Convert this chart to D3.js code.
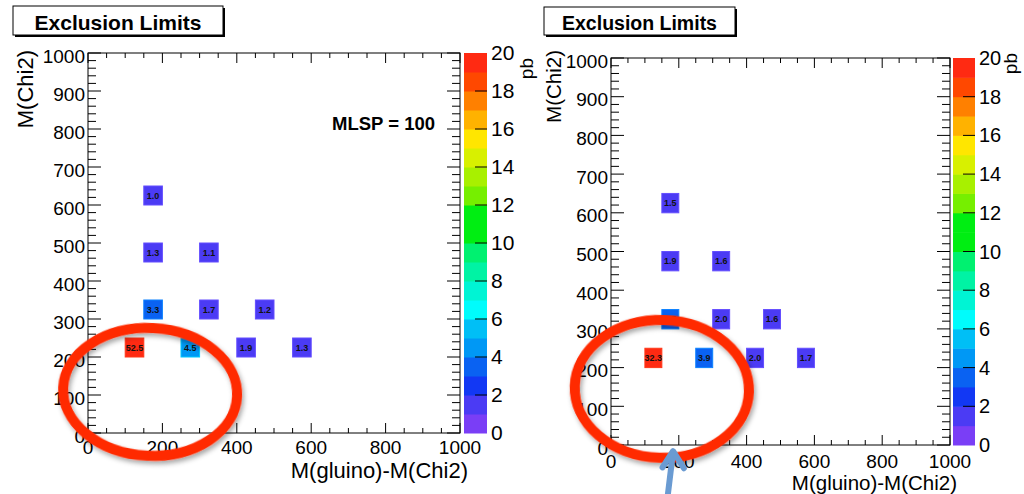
<!DOCTYPE html>
<html>
<head>
<meta charset="utf-8">
<script src="https://cdn.jsdelivr.net/npm/d3@7"></script>
<style>
  body { margin: 0; background: #fff; }
  svg { display: block; font-family: "Liberation Sans", Arial, sans-serif; }
</style>
</head>
<body>
<div id="chart"></div>
<script>
// bin centres (same grid in both panels)
const cellX = [125, 275, 425, 575, 175, 325, 475, 175, 325, 175];
const cellY = [225, 225, 225, 225, 325, 325, 325, 475, 475, 625];
// cross sections in pb
const xsecLeft  = [52.5, 4.5, 1.9, 1.3, 3.3, 1.7, 1.2, 1.3, 1.1, 1.0];
const xsecRight = [32.3, 3.9, 1.96, 1.7, 3.5, 1.96, 1.6, 1.9, 1.6, 1.5];

const xTicks = [0, 200, 400, 600, 800, 1000];
const yTicks = [0, 100, 200, 300, 400, 500, 600, 700, 800, 900, 1000];
const zTicks = [0, 2, 4, 6, 8, 10, 12, 14, 16, 18, 20];

// ROOT-ish rainbow, 20 bands from 0 to 20 pb
const palette = ["#7a3ef6", "#4b3bf4", "#1238f4", "#0a62f2", "#0098f5", "#00bff6", "#00fcfc",
  "#00f4d4", "#00f3a4", "#00f170", "#00ee12", "#00ee12", "#76ef00", "#a8f000", "#d8f000",
  "#ffe600", "#ffb200", "#ff8000", "#ff4800", "#ff2a12"];

const width = 1024, height = 494;
const svg = d3.select("#chart").append("svg")
  .attr("width", width).attr("height", height);

const defs = svg.append("defs");
defs.append("filter").attr("id", "shadow")
  .attr("x", "-20%").attr("y", "-20%").attr("width", "140%").attr("height", "140%")
  .append("feDropShadow")
  .attr("dx", 2).attr("dy", 3).attr("stdDeviation", 2.5)
  .attr("flood-color", "#000").attr("flood-opacity", 0.35);

const colour = d3.scaleQuantize().domain([0, 20]).range(palette);

function drawPanel(p, values) {
  const g = svg.append("g");
  const x = d3.scaleLinear().domain([0, 1000]).range([p.x0, p.x1]);
  const y = d3.scaleLinear().domain([0, 1000]).range([p.y0, p.y1]);
  const z = d3.scaleLinear().domain([0, 20]).range([p.y0, p.y1]);

  // cells
  const cells = cellX.map((cx, i) => ({ x: cx, y: cellY[i], v: values[i] }));
  g.selectAll("rect.cell").data(cells).enter().append("rect")
    .attr("class", "cell")
    .attr("x", d => x(d.x - 25)).attr("y", d => y(d.y + 25))
    .attr("width", d => x(d.x + 25) - x(d.x - 25))
    .attr("height", d => y(d.y - 25) - y(d.y + 25))
    .attr("fill", d => colour(Math.min(d.v, 19.99)))
    .attr("stroke", d => d3.color(colour(Math.min(d.v, 19.99))).brighter(0.8))
    .attr("stroke-width", 1);
  g.selectAll("text.cell").data(cells).enter().append("text")
    .attr("x", d => x(d.x)).attr("y", d => y(d.y) + 3.2)
    .attr("text-anchor", "middle")
    .attr("font-size", 9).attr("font-weight", "bold").attr("fill", "#111")
    .text(d => d3.format(".1f")(d.v));

  // frame
  g.append("rect")
    .attr("x", p.x0).attr("y", p.y1)
    .attr("width", p.x1 - p.x0).attr("height", p.y0 - p.y1)
    .attr("fill", "none").attr("stroke", "#000").attr("stroke-width", 1);

  // x ticks, bottom and top, pointing in
  const xMinor = d3.range(0, 1001, 50);
  g.selectAll("line.xt").data(xMinor).enter().append("line")
    .attr("x1", d => x(d)).attr("x2", d => x(d))
    .attr("y1", p.y0).attr("y2", d => p.y0 - (d % 200 === 0 ? 10 : 5))
    .attr("stroke", "#000");
  g.selectAll("line.xtt").data(xMinor).enter().append("line")
    .attr("x1", d => x(d)).attr("x2", d => x(d))
    .attr("y1", p.y1).attr("y2", d => p.y1 + (d % 200 === 0 ? 10 : 5))
    .attr("stroke", "#000");
  // y ticks, left and right
  const yMinor = d3.range(0, 1001, 20);
  g.selectAll("line.yt").data(yMinor).enter().append("line")
    .attr("y1", d => y(d)).attr("y2", d => y(d))
    .attr("x1", p.x0).attr("x2", d => p.x0 + (d % 100 === 0 ? 13 : 8))
    .attr("stroke", "#000");
  g.selectAll("line.ytr").data(yMinor).enter().append("line")
    .attr("y1", d => y(d)).attr("y2", d => y(d))
    .attr("x1", p.x1).attr("x2", d => p.x1 - (d % 100 === 0 ? 13 : 8))
    .attr("stroke", "#000");

  // tick labels
  g.selectAll("text.xl").data(xTicks).enter().append("text")
    .attr("x", d => x(d)).attr("y", p.y0 + p.xLabOff)
    .attr("text-anchor", "middle").attr("font-size", p.tickFont)
    .text(d => d);
  g.selectAll("text.yl").data(yTicks).enter().append("text")
    .attr("x", p.x0 - 3).attr("y", d => y(d) + 9.5)
    .attr("text-anchor", "end").attr("font-size", p.tickFont)
    .text(d => d);

  // axis titles
  g.append("text")
    .attr("x", p.xTitleX).attr("y", p.xTitleY)
    .attr("text-anchor", "end").attr("font-size", p.titleFont)
    .text("M(gluino)-M(Chi2)");
  g.append("text")
    .attr("transform", `translate(${p.yTitleX},${p.yTitleY}) rotate(-90)`)
    .attr("text-anchor", "end").attr("font-size", p.titleFont)
    .text("M(Chi2)");

  // colour bar
  const bands = d3.range(20);
  g.selectAll("rect.cb").data(bands).enter().append("rect")
    .attr("x", p.cb0).attr("width", p.cb1 - p.cb0)
    .attr("y", d => z(d + 1)).attr("height", d => z(d) - z(d + 1) + 0.5)
    .attr("fill", d => palette[d]);
  g.selectAll("line.zt").data(zTicks.slice(1, -1)).enter().append("line")
    .attr("x1", p.cb1).attr("x2", p.cb1 - 12)
    .attr("y1", d => z(d)).attr("y2", d => z(d))
    .attr("stroke", "#000");
  g.selectAll("text.zl").data(zTicks).enter().append("text")
    .attr("x", p.cb1 + 4).attr("y", d => z(d) + 7)
    .attr("font-size", p.zFont)
    .text(d => d);
  g.append("text")
    .attr("transform", `translate(${p.pbX},${p.pbY}) rotate(-90)`)
    .attr("text-anchor", "end").attr("font-size", 19)
    .text("pb");

  // title box
  g.append("rect")
    .attr("x", p.box[0] + 2).attr("y", p.box[1] + 2)
    .attr("width", p.box[2]).attr("height", p.box[3]).attr("fill", "#000");
  g.append("rect")
    .attr("x", p.box[0]).attr("y", p.box[1])
    .attr("width", p.box[2]).attr("height", p.box[3])
    .attr("fill", "#fff").attr("stroke", "#000");
  g.append("text")
    .attr("x", p.box[0] + p.box[2] / 2).attr("y", p.box[1] + p.box[3] - 5)
    .attr("text-anchor", "middle").attr("font-weight", "bold")
    .attr("font-size", p.boxFont)
    .text("Exclusion Limits");

  return { g, x, y };
}

const left = drawPanel({
  x0: 88, x1: 460, y0: 433, y1: 53, cb0: 464, cb1: 487,
  tickFont: 19, titleFont: 22, zFont: 21, xLabOff: 21,
  xTitleX: 468, xTitleY: 478, yTitleX: 33, yTitleY: 50,
  pbX: 533, pbY: 58, box: [13, 6, 210, 29], boxFont: 21
}, xsecLeft);

const right = drawPanel({
  x0: 611, x1: 950, y0: 445, y1: 58, cb0: 953, cb1: 975,
  tickFont: 19, titleFont: 20.5, zFont: 20, xLabOff: 22.5,
  xTitleX: 957, xTitleY: 489.5, yTitleX: 561, yTitleY: 50,
  pbX: 1017, pbY: 53, box: [544, 7, 191, 28], boxFont: 19.5
}, xsecRight);

left.g.append("text")
  .attr("x", left.x(656)).attr("y", left.y(797))
  .attr("font-weight", "bold").attr("font-size", 18.5)
  .text("MLSP = 100");

// hand-drawn annotations (in data units of each panel)
function ring(panel, cx, cy, rx, ry, rot) {
  const px = panel.x(cx), py = panel.y(cy);
  panel.g.append("ellipse")
    .attr("cx", px).attr("cy", py)
    .attr("rx", panel.x(cx + rx) - px).attr("ry", py - panel.y(cy + ry))
    .attr("transform", `rotate(${rot},${px},${py})`)
    .attr("fill", "none").attr("stroke", "#ff2a00").attr("stroke-width", 10)
    .attr("filter", "url(#shadow)");
}
ring(left, 167, 108, 234, 168, 3);
ring(right, 150, 145, 257, 178, 2);

const arrowPts = [[168, -126], [183, -18]];
const head = [[152, -58], [183, -16], [215, -60]];
const line = d3.line().x(d => right.x(d[0])).y(d => right.y(d[1]));
right.g.append("path").attr("d", line(arrowPts))
  .attr("fill", "none").attr("stroke", "#6a9bd2").attr("stroke-width", 6)
  .attr("stroke-linecap", "round");
right.g.append("path").attr("d", line(head))
  .attr("fill", "none").attr("stroke", "#6a9bd2").attr("stroke-width", 6)
  .attr("stroke-linecap", "round").attr("stroke-linejoin", "round");
</script>
</body>
</html>
